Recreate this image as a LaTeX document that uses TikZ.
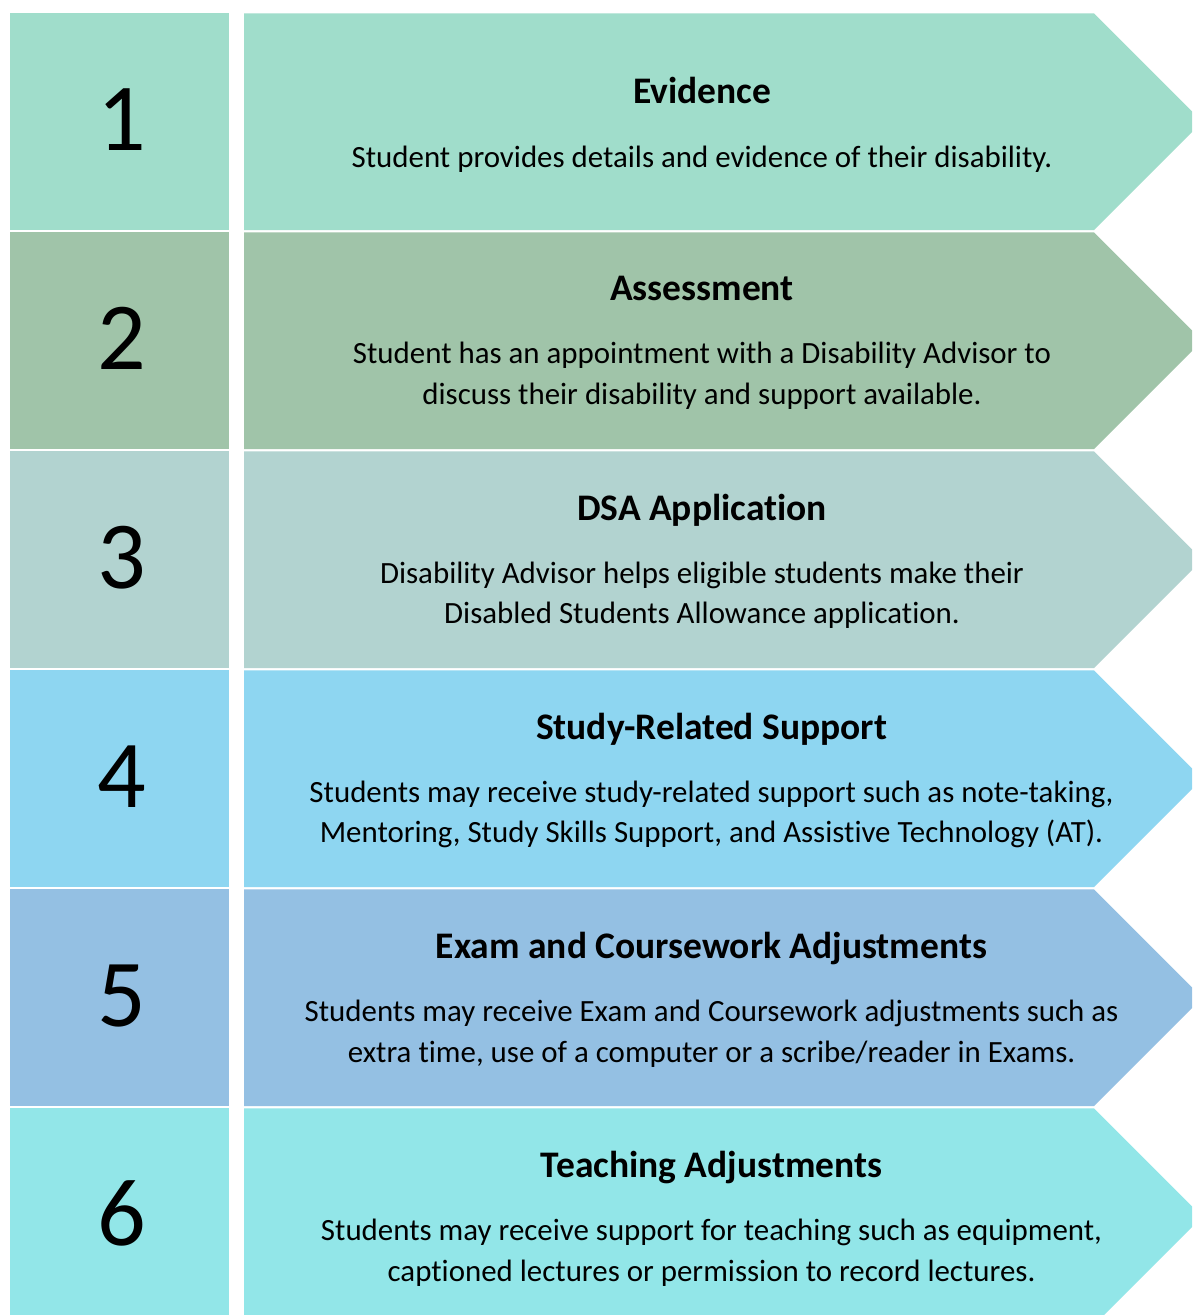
\documentclass[tikz,border=0pt]{standalone}
\usepackage{fontspec}
\setmainfont{Carlito}[Ligatures=NoCommon]
\definecolor{rowA}{RGB}{160,221,203}
\definecolor{rowB}{RGB}{160,196,169}
\definecolor{rowC}{RGB}{178,211,208}
\definecolor{rowD}{RGB}{142,214,241}
\definecolor{rowE}{RGB}{148,192,227}
\definecolor{rowF}{RGB}{146,230,232}
\begin{document}
\begin{tikzpicture}[x=1pt,y=-1pt,
  numtxt/.style={anchor=base,inner sep=0pt,font=\fontsize{96}{100}\selectfont},
  titletxt/.style={anchor=base,inner sep=0pt,font=\fontsize{37.5}{42}\selectfont\bfseries},
  bodytxt/.style={anchor=base,inner sep=0pt,font=\fontsize{30.9}{41}\selectfont}]
\useasboundingbox (0,0) rectangle (1192,1315);
\clip (0,0) rectangle (1192,1315);
\fill[white] (0,0) rectangle (1192,1315);
\foreach \k/\col in {0/rowA,1/rowB,2/rowC,3/rowD,4/rowE,5/rowF}{
  \pgfmathsetmacro{\tp}{13.3+219*\k}
  \pgfmathsetmacro{\bt}{\tp+216.7}
  \pgfmathsetmacro{\md}{\tp+108.35}
  \fill[\col] (10,\tp) rectangle (229,\bt);
  \fill[\col] (244,\tp) -- (1094,\tp) -- (1202.35,\md) -- (1094,\bt) -- (244,\bt) -- cycle;
}
% row 1
\node[numtxt] (n1) at (122,150) {1};
\node[titletxt] (t1) at (702,103) {Evidence};
\node[bodytxt] (b1a) at (702,167) {Student provides details and evidence of their disability.};
% row 2
\node[numtxt] (n2) at (122,369) {2};
\node[titletxt] (t2) at (702,300) {Assessment};
\node[bodytxt] (b2a) at (702,363) {Student has an appointment with a Disability Advisor to};
\node[bodytxt] (b2b) at (702,404) {discuss their disability and support available.};
% row 3
\node[numtxt] (n3) at (122,588) {3};
\node[titletxt] (t3) at (702,520) {DSA Application};
\node[bodytxt] (b3a) at (702,583) {Disability Advisor helps eligible students make their};
\node[bodytxt] (b3b) at (702,623) {Disabled Students Allowance application.};
% row 4
\node[numtxt] (n4) at (122,807) {4};
\node[titletxt] (t4) at (711.5,739) {Study-Related Support};
\node[bodytxt] (b4a) at (711.5,802) {Students may receive study-related support such as note-taking,};
\node[bodytxt] (b4b) at (711.5,842) {Mentoring, Study Skills Support, and Assistive Technology (AT).};
% row 5
\node[numtxt] (n5) at (122,1026) {5};
\node[titletxt] (t5) at (711.5,958) {Exam and Coursework Adjustments};
\node[bodytxt] (b5a) at (711.5,1021) {Students may receive Exam and Coursework adjustments such as};
\node[bodytxt] (b5b) at (711.5,1062) {extra time, use of a computer or a scribe/reader in Exams.};
% row 6
\node[numtxt] (n6) at (122,1245) {6};
\node[titletxt] (t6) at (711.5,1177) {Teaching Adjustments};
\node[bodytxt] (b6a) at (711.5,1240) {Students may receive support for teaching such as equipment,};
\node[bodytxt] (b6b) at (711.5,1281) {captioned lectures or permission to record lectures.};
\end{tikzpicture}
\end{document}
